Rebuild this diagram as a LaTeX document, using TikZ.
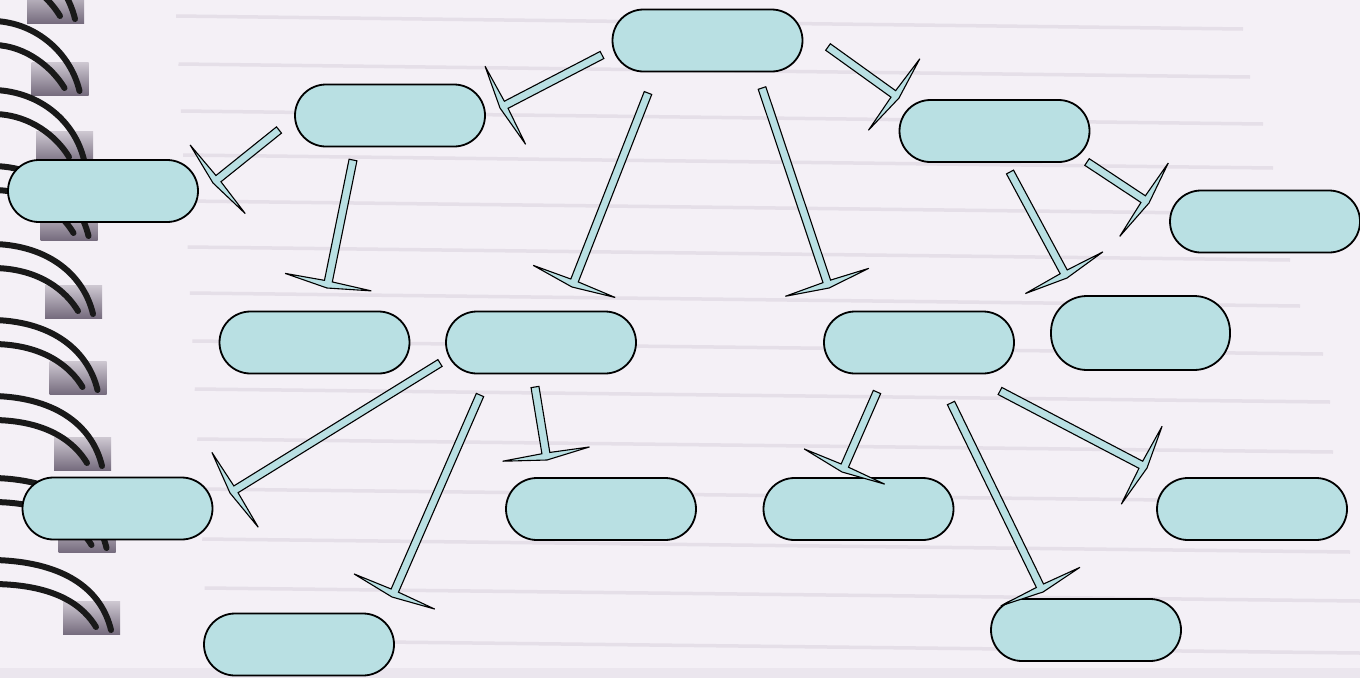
\documentclass[tikz,border=0pt]{standalone}
\usetikzlibrary{calc}

\definecolor{paper}{RGB}{244,240,246}
\definecolor{rulecol}{RGB}{229,223,232}
\definecolor{boxfill}{RGB}{185,224,227}
\definecolor{hole}{RGB}{118,108,126}

\tikzset{
  box/.style={draw=black, line width=1.8pt, fill=boxfill, rounded corners=31pt,
              minimum width=190pt, minimum height=62pt, inner sep=0pt},
  teearrow/.style={draw=black, line width=1.1pt, fill=boxfill, line join=miter},
  ring/.style={line width=6pt, black!90, line cap=round},
}

% flat arrow with a swept tee head, from #1 to #2
\newcommand{\tarrow}[2]{%
  \coordinate (ta) at ($(#2)!7pt!(#1)$);
  \coordinate (tb) at ($(#2)!6pt!(#1)$);
  \filldraw[teearrow]
    ($(#1)!4pt!90:(#2)$) -- ($(ta)!4pt!-90:(#1)$) -- ($(tb)!44pt!-90:(#1)$) -- (#2)
    -- ($(tb)!44pt!90:(#1)$) -- ($(ta)!4pt!90:(#1)$) -- ($(#1)!4pt!-90:(#2)$) -- cycle;}

\begin{document}
\begin{tikzpicture}[x=1pt,y=-1pt]
\useasboundingbox (0,0) rectangle (1360,678);
\clip (0,0) rectangle (1360,678);
\fill[paper] (0,0) rectangle (1360,678);
\fill[rulecol!60!paper] (0,668) rectangle (1360,678);

% paper lines
\foreach \ly/\lx in {22/1243,70/1250,117/1263,161/1273,207/1282,253/1290,299/1300,
                     347/1323,395/1330,445/1333,495/1342,545/1350,594/1360,646/1360}
  \draw[rulecol, line width=3.5pt] (175+0.05*\ly,\ly-6) -- (\lx,\ly+7);

% spiral binding
\foreach \yb/\dx in {23/-18,95/-13.5,164/-9,240/-4.5,318/0,394/4.5,470/9,552/13.5,634/18} {
  \shade[top color=hole!30!paper, bottom color=hole] (45+\dx,\yb-33) rectangle (102+\dx,\yb);
  \draw[ring] (-5,\yb-74) .. controls (50+\dx,\yb-72) and (84+\dx,\yb-42) .. (93+\dx,\yb-4);
  \draw[ring] (-5,\yb-50) .. controls (40+\dx,\yb-49) and (66+\dx,\yb-27) .. (78+\dx,\yb-7);
}

% boxes
\node[box] (T)  at (707.5,40.5) {};
\node[box] (L1) at (390,115.5)  {};
\node[box] (L2) at (103,191)    {};
\node[box] (R1) at (994.5,131)  {};
\node[box] (R2) at (1265,221.5) {};
\node[box] (M1) at (314.5,342.5) {};
\node[box] (M2) at (541,342.5)  {};
\node[box] (M3) at (919,342.5)  {};
\node[box, minimum width=179pt, minimum height=74pt, rounded corners=36pt] (M4) at (1140.5,333) {};
\node[box] (B1) at (117.5,508.5) {};
\node[box] (B2) at (601,509)    {};
\node[box] (B3) at (858.5,509)  {};
\node[box] (B4) at (1252,509)   {};
\node[box] (B5) at (299,644.5)  {};
\node[box] (B6) at (1086,630)   {};

% arrows
\foreach \i/\sx/\sy/\ex/\ey in {1/602/55/500/108, 2/648/93/572/287, 3/762/88/829/288,
    4/828/47/899/98, 5/279/130/213/183, 6/353/160/327/288, 7/1010/172/1067/278,
    8/1087/162/1149/203, 9/440/363/230/493, 10/480/395/392/597, 11/535/387/547/460,
    12/877/392/842/472, 13/951/403/1043/592, 14/1000/391/1147/468} {
  \coordinate (s\i) at (\sx,\sy);
  \coordinate (e\i) at (\ex,\ey);
  \tarrow{s\i}{e\i}
}

\end{tikzpicture}
\end{document}
